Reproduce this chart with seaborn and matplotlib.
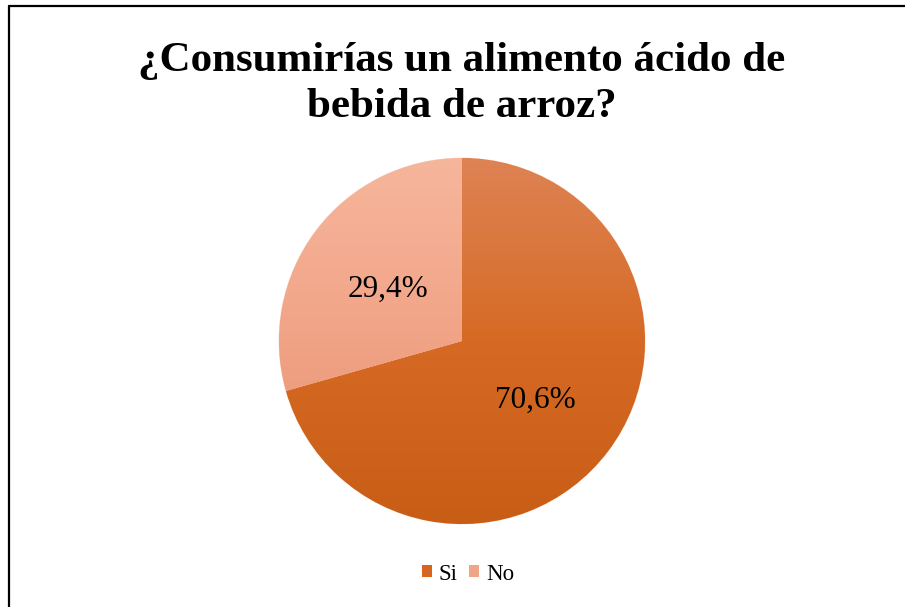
import matplotlib
matplotlib.use("Agg")
import matplotlib.pyplot as plt
import seaborn as sns
import numpy as np
from matplotlib.lines import Line2D
from matplotlib.patches import Patch
from matplotlib.colors import LinearSegmentedColormap

# datos
categorias = ["Si", "No"]
porcentajes = [70.6, 29.4]
etiquetas = ["70,6%", "29,4%"]
colores = ["#D6661F", "#F0A587"]
# degradado (arriba -> abajo) de cada porcion
degradados = [("#DE8354", "#D66A24", "#C85D16"), ("#F6B69C", "#F1A386", "#E38C70")]
titulo = "¿Consumirías un alimento ácido de\nbebida de arroz?"

sns.set_theme(style="white")
plt.rcParams["font.family"] = ["Liberation Serif", "DejaVu Serif"]

W, H = 905, 607
fig = plt.figure(figsize=(W / 100, H / 100), dpi=100)
fig.patch.set_facecolor("white")

# marco (solo borde izquierdo y superior visibles)
fig.add_artist(Line2D([9 / W, 9 / W], [0, 1 - 6 / H], transform=fig.transFigure,
                      color="black", linewidth=1.6))
fig.add_artist(Line2D([9 / W, 1], [1 - 6 / H, 1 - 6 / H], transform=fig.transFigure,
                      color="black", linewidth=1.6))

# pastel
cx, cy, r = 462, 341, 183
ax = fig.add_axes([(cx - r) / W, (H - cy - r) / H, 2 * r / W, 2 * r / H])
wedges, _ = ax.pie(porcentajes, colors=colores, startangle=90, counterclock=False,
                   radius=1, wedgeprops=dict(linewidth=0.6, edgecolor="#FBE3D8"))
grad = np.linspace(0, 1, 256).reshape(-1, 1)
for w, stops in zip(wedges, degradados):
    cmap = LinearSegmentedColormap.from_list("g", list(stops))
    im = ax.imshow(grad, cmap=cmap, extent=(-1, 1, -1, 1), origin="upper",
                   aspect="auto", zorder=w.get_zorder() + 0.1)
    im.set_clip_path(w)
for w, lab in zip(wedges, etiquetas):
    ang = np.deg2rad((w.theta1 + w.theta2) / 2)
    ax.text(0.505 * np.cos(ang), 0.505 * np.sin(ang) - 0.022, lab, ha="center",
            va="center", fontsize=22.5, color="black", zorder=5)
ax.set_xlim(-1, 1)
ax.set_ylim(-1, 1)
ax.set_aspect("equal")
ax.axis("off")

# titulo
fig.text(462 / W, 1 - 84 / H, titulo, ha="center", va="center", fontsize=31,
         fontweight="bold", linespacing=1.25, color="black")

# leyenda
handles = [Patch(facecolor=c, edgecolor="none") for c in colores]
fig.legend(handles, categorias, loc="center", bbox_to_anchor=(468 / W, 1 - 574 / H),
           ncol=2, frameon=False, fontsize=16.5, handlelength=0.45, handleheight=0.45,
           handletextpad=0.3, columnspacing=0.5, labelcolor="black")

fig.savefig("out.png", dpi=100)
